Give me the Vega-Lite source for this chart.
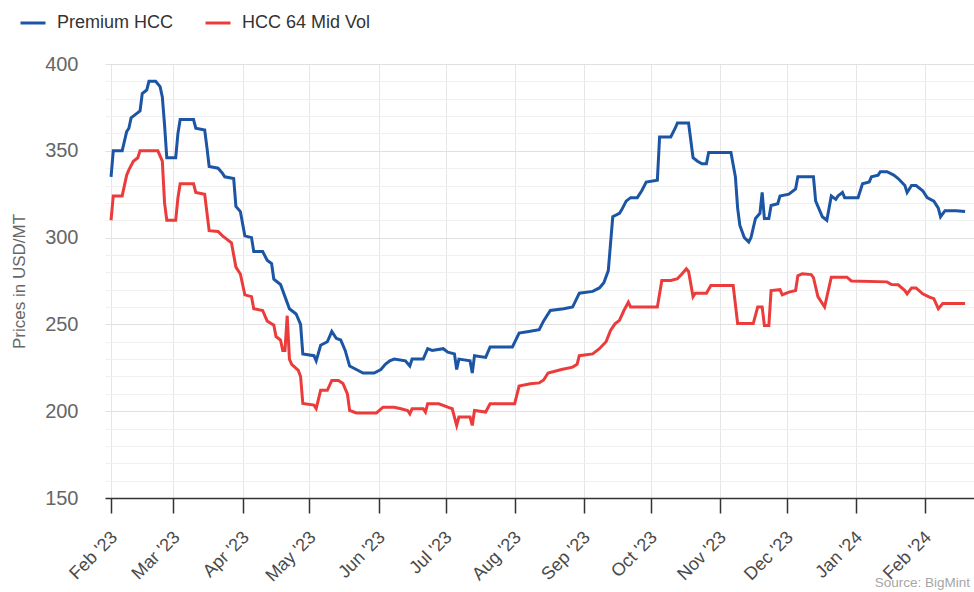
{
  "$schema": "https://vega.github.io/schema/vega-lite/v6.json",
  "width": 869,
  "height": 434,
  "autosize": {"type": "none"},
  "padding": {"left": 105, "top": 64, "right": 0, "bottom": 94},
  "background": "white",
  "config": {
    "font": "Liberation Sans",
    "view": {"stroke": null}
  },
  "title": {
    "text": "Source: BigMint",
    "orient": "bottom",
    "anchor": "end",
    "frame": "group",
    "fontSize": 13.5,
    "fontWeight": "normal",
    "color": "#a6a6a6",
    "offset": -9,
    "dx": -4
  },
  "data": {
    "values": [
      {"date": "2023-02-01", "series": "Premium HCC", "price": 335},
      {"date": "2023-02-02", "series": "Premium HCC", "price": 350},
      {"date": "2023-02-06", "series": "Premium HCC", "price": 350},
      {"date": "2023-02-08", "series": "Premium HCC", "price": 361},
      {"date": "2023-02-09", "series": "Premium HCC", "price": 363},
      {"date": "2023-02-10", "series": "Premium HCC", "price": 369},
      {"date": "2023-02-12", "series": "Premium HCC", "price": 371},
      {"date": "2023-02-14", "series": "Premium HCC", "price": 373},
      {"date": "2023-02-15", "series": "Premium HCC", "price": 383},
      {"date": "2023-02-17", "series": "Premium HCC", "price": 385},
      {"date": "2023-02-18", "series": "Premium HCC", "price": 390},
      {"date": "2023-02-21", "series": "Premium HCC", "price": 390},
      {"date": "2023-02-23", "series": "Premium HCC", "price": 387},
      {"date": "2023-02-24", "series": "Premium HCC", "price": 381},
      {"date": "2023-02-25", "series": "Premium HCC", "price": 365},
      {"date": "2023-02-26", "series": "Premium HCC", "price": 346},
      {"date": "2023-03-02", "series": "Premium HCC", "price": 346},
      {"date": "2023-03-03", "series": "Premium HCC", "price": 360},
      {"date": "2023-03-04", "series": "Premium HCC", "price": 368},
      {"date": "2023-03-10", "series": "Premium HCC", "price": 368},
      {"date": "2023-03-11", "series": "Premium HCC", "price": 363},
      {"date": "2023-03-15", "series": "Premium HCC", "price": 362},
      {"date": "2023-03-16", "series": "Premium HCC", "price": 352},
      {"date": "2023-03-17", "series": "Premium HCC", "price": 341},
      {"date": "2023-03-21", "series": "Premium HCC", "price": 340},
      {"date": "2023-03-23", "series": "Premium HCC", "price": 337},
      {"date": "2023-03-24", "series": "Premium HCC", "price": 335},
      {"date": "2023-03-28", "series": "Premium HCC", "price": 334},
      {"date": "2023-03-29", "series": "Premium HCC", "price": 318},
      {"date": "2023-03-31", "series": "Premium HCC", "price": 315},
      {"date": "2023-04-02", "series": "Premium HCC", "price": 301},
      {"date": "2023-04-05", "series": "Premium HCC", "price": 300},
      {"date": "2023-04-06", "series": "Premium HCC", "price": 292},
      {"date": "2023-04-10", "series": "Premium HCC", "price": 292},
      {"date": "2023-04-12", "series": "Premium HCC", "price": 287},
      {"date": "2023-04-14", "series": "Premium HCC", "price": 285},
      {"date": "2023-04-15", "series": "Premium HCC", "price": 276},
      {"date": "2023-04-18", "series": "Premium HCC", "price": 273},
      {"date": "2023-04-20", "series": "Premium HCC", "price": 266},
      {"date": "2023-04-22", "series": "Premium HCC", "price": 259},
      {"date": "2023-04-25", "series": "Premium HCC", "price": 256},
      {"date": "2023-04-27", "series": "Premium HCC", "price": 250},
      {"date": "2023-04-28", "series": "Premium HCC", "price": 233},
      {"date": "2023-05-03", "series": "Premium HCC", "price": 232},
      {"date": "2023-05-04", "series": "Premium HCC", "price": 229},
      {"date": "2023-05-06", "series": "Premium HCC", "price": 238},
      {"date": "2023-05-09", "series": "Premium HCC", "price": 240},
      {"date": "2023-05-11", "series": "Premium HCC", "price": 246},
      {"date": "2023-05-13", "series": "Premium HCC", "price": 242},
      {"date": "2023-05-15", "series": "Premium HCC", "price": 241},
      {"date": "2023-05-17", "series": "Premium HCC", "price": 235},
      {"date": "2023-05-19", "series": "Premium HCC", "price": 226},
      {"date": "2023-05-22", "series": "Premium HCC", "price": 224},
      {"date": "2023-05-25", "series": "Premium HCC", "price": 222},
      {"date": "2023-05-30", "series": "Premium HCC", "price": 222},
      {"date": "2023-06-02", "series": "Premium HCC", "price": 224},
      {"date": "2023-06-04", "series": "Premium HCC", "price": 227},
      {"date": "2023-06-06", "series": "Premium HCC", "price": 229},
      {"date": "2023-06-08", "series": "Premium HCC", "price": 230},
      {"date": "2023-06-13", "series": "Premium HCC", "price": 229},
      {"date": "2023-06-15", "series": "Premium HCC", "price": 226},
      {"date": "2023-06-16", "series": "Premium HCC", "price": 230},
      {"date": "2023-06-21", "series": "Premium HCC", "price": 230},
      {"date": "2023-06-23", "series": "Premium HCC", "price": 236},
      {"date": "2023-06-25", "series": "Premium HCC", "price": 235},
      {"date": "2023-06-30", "series": "Premium HCC", "price": 236},
      {"date": "2023-07-02", "series": "Premium HCC", "price": 234},
      {"date": "2023-07-05", "series": "Premium HCC", "price": 233},
      {"date": "2023-07-06", "series": "Premium HCC", "price": 224},
      {"date": "2023-07-07", "series": "Premium HCC", "price": 230},
      {"date": "2023-07-12", "series": "Premium HCC", "price": 229},
      {"date": "2023-07-13", "series": "Premium HCC", "price": 222},
      {"date": "2023-07-14", "series": "Premium HCC", "price": 232},
      {"date": "2023-07-19", "series": "Premium HCC", "price": 231},
      {"date": "2023-07-21", "series": "Premium HCC", "price": 237},
      {"date": "2023-07-31", "series": "Premium HCC", "price": 237},
      {"date": "2023-08-03", "series": "Premium HCC", "price": 245},
      {"date": "2023-08-08", "series": "Premium HCC", "price": 246},
      {"date": "2023-08-12", "series": "Premium HCC", "price": 247},
      {"date": "2023-08-14", "series": "Premium HCC", "price": 252},
      {"date": "2023-08-17", "series": "Premium HCC", "price": 258},
      {"date": "2023-08-23", "series": "Premium HCC", "price": 259},
      {"date": "2023-08-27", "series": "Premium HCC", "price": 260},
      {"date": "2023-08-30", "series": "Premium HCC", "price": 268},
      {"date": "2023-09-05", "series": "Premium HCC", "price": 269},
      {"date": "2023-09-08", "series": "Premium HCC", "price": 271},
      {"date": "2023-09-10", "series": "Premium HCC", "price": 274},
      {"date": "2023-09-12", "series": "Premium HCC", "price": 281},
      {"date": "2023-09-14", "series": "Premium HCC", "price": 312},
      {"date": "2023-09-17", "series": "Premium HCC", "price": 314},
      {"date": "2023-09-18", "series": "Premium HCC", "price": 316},
      {"date": "2023-09-20", "series": "Premium HCC", "price": 321},
      {"date": "2023-09-22", "series": "Premium HCC", "price": 323},
      {"date": "2023-09-25", "series": "Premium HCC", "price": 323},
      {"date": "2023-09-27", "series": "Premium HCC", "price": 327},
      {"date": "2023-09-29", "series": "Premium HCC", "price": 332},
      {"date": "2023-10-04", "series": "Premium HCC", "price": 333},
      {"date": "2023-10-05", "series": "Premium HCC", "price": 358},
      {"date": "2023-10-10", "series": "Premium HCC", "price": 358},
      {"date": "2023-10-12", "series": "Premium HCC", "price": 363},
      {"date": "2023-10-13", "series": "Premium HCC", "price": 366},
      {"date": "2023-10-18", "series": "Premium HCC", "price": 366},
      {"date": "2023-10-20", "series": "Premium HCC", "price": 346},
      {"date": "2023-10-22", "series": "Premium HCC", "price": 344},
      {"date": "2023-10-24", "series": "Premium HCC", "price": 342.5},
      {"date": "2023-10-26", "series": "Premium HCC", "price": 342.5},
      {"date": "2023-10-27", "series": "Premium HCC", "price": 349},
      {"date": "2023-11-06", "series": "Premium HCC", "price": 349},
      {"date": "2023-11-08", "series": "Premium HCC", "price": 335},
      {"date": "2023-11-09", "series": "Premium HCC", "price": 317},
      {"date": "2023-11-10", "series": "Premium HCC", "price": 307},
      {"date": "2023-11-12", "series": "Premium HCC", "price": 300},
      {"date": "2023-11-14", "series": "Premium HCC", "price": 297.5},
      {"date": "2023-11-15", "series": "Premium HCC", "price": 300},
      {"date": "2023-11-17", "series": "Premium HCC", "price": 311},
      {"date": "2023-11-19", "series": "Premium HCC", "price": 314},
      {"date": "2023-11-20", "series": "Premium HCC", "price": 326},
      {"date": "2023-11-21", "series": "Premium HCC", "price": 311},
      {"date": "2023-11-23", "series": "Premium HCC", "price": 311},
      {"date": "2023-11-24", "series": "Premium HCC", "price": 318.5},
      {"date": "2023-11-27", "series": "Premium HCC", "price": 319.5},
      {"date": "2023-11-28", "series": "Premium HCC", "price": 324},
      {"date": "2023-12-02", "series": "Premium HCC", "price": 325},
      {"date": "2023-12-05", "series": "Premium HCC", "price": 328},
      {"date": "2023-12-06", "series": "Premium HCC", "price": 335},
      {"date": "2023-12-13", "series": "Premium HCC", "price": 335},
      {"date": "2023-12-14", "series": "Premium HCC", "price": 321},
      {"date": "2023-12-17", "series": "Premium HCC", "price": 312},
      {"date": "2023-12-19", "series": "Premium HCC", "price": 310},
      {"date": "2023-12-21", "series": "Premium HCC", "price": 324},
      {"date": "2023-12-23", "series": "Premium HCC", "price": 322},
      {"date": "2023-12-24", "series": "Premium HCC", "price": 324},
      {"date": "2023-12-26", "series": "Premium HCC", "price": 326},
      {"date": "2023-12-27", "series": "Premium HCC", "price": 323},
      {"date": "2024-01-02", "series": "Premium HCC", "price": 323},
      {"date": "2024-01-04", "series": "Premium HCC", "price": 331},
      {"date": "2024-01-07", "series": "Premium HCC", "price": 332},
      {"date": "2024-01-08", "series": "Premium HCC", "price": 335},
      {"date": "2024-01-11", "series": "Premium HCC", "price": 336},
      {"date": "2024-01-12", "series": "Premium HCC", "price": 338},
      {"date": "2024-01-15", "series": "Premium HCC", "price": 338},
      {"date": "2024-01-18", "series": "Premium HCC", "price": 336},
      {"date": "2024-01-20", "series": "Premium HCC", "price": 334},
      {"date": "2024-01-23", "series": "Premium HCC", "price": 330},
      {"date": "2024-01-24", "series": "Premium HCC", "price": 326},
      {"date": "2024-01-26", "series": "Premium HCC", "price": 330},
      {"date": "2024-01-28", "series": "Premium HCC", "price": 330},
      {"date": "2024-01-31", "series": "Premium HCC", "price": 327},
      {"date": "2024-02-02", "series": "Premium HCC", "price": 323},
      {"date": "2024-02-05", "series": "Premium HCC", "price": 321},
      {"date": "2024-02-07", "series": "Premium HCC", "price": 317},
      {"date": "2024-02-08", "series": "Premium HCC", "price": 312},
      {"date": "2024-02-10", "series": "Premium HCC", "price": 315.5},
      {"date": "2024-02-15", "series": "Premium HCC", "price": 315.5},
      {"date": "2024-02-19", "series": "Premium HCC", "price": 315},

      {"date": "2023-02-01", "series": "HCC 64 Mid Vol", "price": 310},
      {"date": "2023-02-02", "series": "HCC 64 Mid Vol", "price": 324},
      {"date": "2023-02-06", "series": "HCC 64 Mid Vol", "price": 324},
      {"date": "2023-02-08", "series": "HCC 64 Mid Vol", "price": 336},
      {"date": "2023-02-09", "series": "HCC 64 Mid Vol", "price": 339},
      {"date": "2023-02-11", "series": "HCC 64 Mid Vol", "price": 344},
      {"date": "2023-02-13", "series": "HCC 64 Mid Vol", "price": 346},
      {"date": "2023-02-14", "series": "HCC 64 Mid Vol", "price": 350},
      {"date": "2023-02-22", "series": "HCC 64 Mid Vol", "price": 350},
      {"date": "2023-02-24", "series": "HCC 64 Mid Vol", "price": 344},
      {"date": "2023-02-25", "series": "HCC 64 Mid Vol", "price": 320},
      {"date": "2023-02-26", "series": "HCC 64 Mid Vol", "price": 310},
      {"date": "2023-03-02", "series": "HCC 64 Mid Vol", "price": 310},
      {"date": "2023-03-03", "series": "HCC 64 Mid Vol", "price": 323},
      {"date": "2023-03-04", "series": "HCC 64 Mid Vol", "price": 331},
      {"date": "2023-03-10", "series": "HCC 64 Mid Vol", "price": 331},
      {"date": "2023-03-11", "series": "HCC 64 Mid Vol", "price": 326},
      {"date": "2023-03-15", "series": "HCC 64 Mid Vol", "price": 325},
      {"date": "2023-03-17", "series": "HCC 64 Mid Vol", "price": 304},
      {"date": "2023-03-21", "series": "HCC 64 Mid Vol", "price": 303.5},
      {"date": "2023-03-23", "series": "HCC 64 Mid Vol", "price": 301},
      {"date": "2023-03-25", "series": "HCC 64 Mid Vol", "price": 299},
      {"date": "2023-03-27", "series": "HCC 64 Mid Vol", "price": 297},
      {"date": "2023-03-29", "series": "HCC 64 Mid Vol", "price": 283},
      {"date": "2023-03-31", "series": "HCC 64 Mid Vol", "price": 279},
      {"date": "2023-04-02", "series": "HCC 64 Mid Vol", "price": 267},
      {"date": "2023-04-05", "series": "HCC 64 Mid Vol", "price": 266},
      {"date": "2023-04-06", "series": "HCC 64 Mid Vol", "price": 259},
      {"date": "2023-04-10", "series": "HCC 64 Mid Vol", "price": 258},
      {"date": "2023-04-12", "series": "HCC 64 Mid Vol", "price": 252},
      {"date": "2023-04-15", "series": "HCC 64 Mid Vol", "price": 249.5},
      {"date": "2023-04-16", "series": "HCC 64 Mid Vol", "price": 243},
      {"date": "2023-04-18", "series": "HCC 64 Mid Vol", "price": 241},
      {"date": "2023-04-19", "series": "HCC 64 Mid Vol", "price": 235},
      {"date": "2023-04-20", "series": "HCC 64 Mid Vol", "price": 235},
      {"date": "2023-04-21", "series": "HCC 64 Mid Vol", "price": 255},
      {"date": "2023-04-22", "series": "HCC 64 Mid Vol", "price": 230},
      {"date": "2023-04-23", "series": "HCC 64 Mid Vol", "price": 227},
      {"date": "2023-04-26", "series": "HCC 64 Mid Vol", "price": 223.5},
      {"date": "2023-04-27", "series": "HCC 64 Mid Vol", "price": 220},
      {"date": "2023-04-28", "series": "HCC 64 Mid Vol", "price": 204.5},
      {"date": "2023-05-03", "series": "HCC 64 Mid Vol", "price": 203.5},
      {"date": "2023-05-04", "series": "HCC 64 Mid Vol", "price": 201.5},
      {"date": "2023-05-06", "series": "HCC 64 Mid Vol", "price": 212},
      {"date": "2023-05-09", "series": "HCC 64 Mid Vol", "price": 212},
      {"date": "2023-05-11", "series": "HCC 64 Mid Vol", "price": 217.7},
      {"date": "2023-05-14", "series": "HCC 64 Mid Vol", "price": 217.7},
      {"date": "2023-05-16", "series": "HCC 64 Mid Vol", "price": 216},
      {"date": "2023-05-18", "series": "HCC 64 Mid Vol", "price": 210},
      {"date": "2023-05-19", "series": "HCC 64 Mid Vol", "price": 200.5},
      {"date": "2023-05-22", "series": "HCC 64 Mid Vol", "price": 199},
      {"date": "2023-05-31", "series": "HCC 64 Mid Vol", "price": 199},
      {"date": "2023-06-03", "series": "HCC 64 Mid Vol", "price": 202.3},
      {"date": "2023-06-08", "series": "HCC 64 Mid Vol", "price": 202.3},
      {"date": "2023-06-11", "series": "HCC 64 Mid Vol", "price": 201.4},
      {"date": "2023-06-14", "series": "HCC 64 Mid Vol", "price": 200.4},
      {"date": "2023-06-15", "series": "HCC 64 Mid Vol", "price": 198.5},
      {"date": "2023-06-16", "series": "HCC 64 Mid Vol", "price": 201.4},
      {"date": "2023-06-21", "series": "HCC 64 Mid Vol", "price": 201.4},
      {"date": "2023-06-22", "series": "HCC 64 Mid Vol", "price": 199.5},
      {"date": "2023-06-23", "series": "HCC 64 Mid Vol", "price": 204.3},
      {"date": "2023-06-28", "series": "HCC 64 Mid Vol", "price": 204.3},
      {"date": "2023-07-02", "series": "HCC 64 Mid Vol", "price": 202.3},
      {"date": "2023-07-04", "series": "HCC 64 Mid Vol", "price": 201.4},
      {"date": "2023-07-06", "series": "HCC 64 Mid Vol", "price": 191.8},
      {"date": "2023-07-07", "series": "HCC 64 Mid Vol", "price": 196.6},
      {"date": "2023-07-12", "series": "HCC 64 Mid Vol", "price": 196.6},
      {"date": "2023-07-13", "series": "HCC 64 Mid Vol", "price": 191.8},
      {"date": "2023-07-14", "series": "HCC 64 Mid Vol", "price": 200.4},
      {"date": "2023-07-19", "series": "HCC 64 Mid Vol", "price": 199.5},
      {"date": "2023-07-21", "series": "HCC 64 Mid Vol", "price": 204.3},
      {"date": "2023-08-01", "series": "HCC 64 Mid Vol", "price": 204.3},
      {"date": "2023-08-03", "series": "HCC 64 Mid Vol", "price": 214.5},
      {"date": "2023-08-08", "series": "HCC 64 Mid Vol", "price": 215.8},
      {"date": "2023-08-12", "series": "HCC 64 Mid Vol", "price": 216.3},
      {"date": "2023-08-14", "series": "HCC 64 Mid Vol", "price": 218},
      {"date": "2023-08-16", "series": "HCC 64 Mid Vol", "price": 222},
      {"date": "2023-08-22", "series": "HCC 64 Mid Vol", "price": 224},
      {"date": "2023-08-27", "series": "HCC 64 Mid Vol", "price": 225.4},
      {"date": "2023-08-29", "series": "HCC 64 Mid Vol", "price": 227},
      {"date": "2023-08-30", "series": "HCC 64 Mid Vol", "price": 232},
      {"date": "2023-09-05", "series": "HCC 64 Mid Vol", "price": 233},
      {"date": "2023-09-08", "series": "HCC 64 Mid Vol", "price": 236},
      {"date": "2023-09-11", "series": "HCC 64 Mid Vol", "price": 240},
      {"date": "2023-09-13", "series": "HCC 64 Mid Vol", "price": 246.5},
      {"date": "2023-09-15", "series": "HCC 64 Mid Vol", "price": 250.3},
      {"date": "2023-09-17", "series": "HCC 64 Mid Vol", "price": 252.3},
      {"date": "2023-09-19", "series": "HCC 64 Mid Vol", "price": 258},
      {"date": "2023-09-21", "series": "HCC 64 Mid Vol", "price": 262.8},
      {"date": "2023-09-22", "series": "HCC 64 Mid Vol", "price": 260},
      {"date": "2023-10-04", "series": "HCC 64 Mid Vol", "price": 260},
      {"date": "2023-10-06", "series": "HCC 64 Mid Vol", "price": 275.3},
      {"date": "2023-10-10", "series": "HCC 64 Mid Vol", "price": 275.3},
      {"date": "2023-10-13", "series": "HCC 64 Mid Vol", "price": 276.3},
      {"date": "2023-10-15", "series": "HCC 64 Mid Vol", "price": 279},
      {"date": "2023-10-17", "series": "HCC 64 Mid Vol", "price": 282},
      {"date": "2023-10-18", "series": "HCC 64 Mid Vol", "price": 280.5},
      {"date": "2023-10-20", "series": "HCC 64 Mid Vol", "price": 266},
      {"date": "2023-10-21", "series": "HCC 64 Mid Vol", "price": 268},
      {"date": "2023-10-26", "series": "HCC 64 Mid Vol", "price": 268},
      {"date": "2023-10-28", "series": "HCC 64 Mid Vol", "price": 272.4},
      {"date": "2023-11-07", "series": "HCC 64 Mid Vol", "price": 272.4},
      {"date": "2023-11-09", "series": "HCC 64 Mid Vol", "price": 250.5},
      {"date": "2023-11-16", "series": "HCC 64 Mid Vol", "price": 250.5},
      {"date": "2023-11-18", "series": "HCC 64 Mid Vol", "price": 260},
      {"date": "2023-11-20", "series": "HCC 64 Mid Vol", "price": 260},
      {"date": "2023-11-21", "series": "HCC 64 Mid Vol", "price": 249.4},
      {"date": "2023-11-23", "series": "HCC 64 Mid Vol", "price": 249.4},
      {"date": "2023-11-24", "series": "HCC 64 Mid Vol", "price": 269.5},
      {"date": "2023-11-28", "series": "HCC 64 Mid Vol", "price": 270},
      {"date": "2023-11-29", "series": "HCC 64 Mid Vol", "price": 267},
      {"date": "2023-12-02", "series": "HCC 64 Mid Vol", "price": 268.6},
      {"date": "2023-12-05", "series": "HCC 64 Mid Vol", "price": 269.5},
      {"date": "2023-12-06", "series": "HCC 64 Mid Vol", "price": 278},
      {"date": "2023-12-08", "series": "HCC 64 Mid Vol", "price": 279.2},
      {"date": "2023-12-12", "series": "HCC 64 Mid Vol", "price": 278.7},
      {"date": "2023-12-13", "series": "HCC 64 Mid Vol", "price": 277},
      {"date": "2023-12-15", "series": "HCC 64 Mid Vol", "price": 266},
      {"date": "2023-12-18", "series": "HCC 64 Mid Vol", "price": 260},
      {"date": "2023-12-21", "series": "HCC 64 Mid Vol", "price": 277.2},
      {"date": "2023-12-28", "series": "HCC 64 Mid Vol", "price": 277.2},
      {"date": "2023-12-30", "series": "HCC 64 Mid Vol", "price": 275},
      {"date": "2024-01-15", "series": "HCC 64 Mid Vol", "price": 274.5},
      {"date": "2024-01-17", "series": "HCC 64 Mid Vol", "price": 273},
      {"date": "2024-01-20", "series": "HCC 64 Mid Vol", "price": 272.8},
      {"date": "2024-01-23", "series": "HCC 64 Mid Vol", "price": 269.5},
      {"date": "2024-01-24", "series": "HCC 64 Mid Vol", "price": 267.6},
      {"date": "2024-01-26", "series": "HCC 64 Mid Vol", "price": 271},
      {"date": "2024-01-28", "series": "HCC 64 Mid Vol", "price": 271},
      {"date": "2024-01-31", "series": "HCC 64 Mid Vol", "price": 267.6},
      {"date": "2024-02-03", "series": "HCC 64 Mid Vol", "price": 265.7},
      {"date": "2024-02-05", "series": "HCC 64 Mid Vol", "price": 264.8},
      {"date": "2024-02-07", "series": "HCC 64 Mid Vol", "price": 259},
      {"date": "2024-02-09", "series": "HCC 64 Mid Vol", "price": 262},
      {"date": "2024-02-19", "series": "HCC 64 Mid Vol", "price": 262}
    ]
  },
  "mark": {"type": "line", "strokeWidth": 3, "interpolate": "linear", "clip": true},
  "encoding": {
    "x": {
      "field": "date",
      "type": "temporal",
      "scale": {
        "type": "utc",
        "domain": [
          {"year": 2023, "month": 1, "date": 29, "hours": 7, "utc": true},
          {"year": 2024, "month": 2, "date": 23, "utc": true}
        ]
      },
      "axis": {
        "title": null,
        "values": [
          {"year": 2023, "month": 2, "date": 1, "utc": true},
          {"year": 2023, "month": 3, "date": 1, "utc": true},
          {"year": 2023, "month": 4, "date": 1, "utc": true},
          {"year": 2023, "month": 5, "date": 1, "utc": true},
          {"year": 2023, "month": 6, "date": 1, "utc": true},
          {"year": 2023, "month": 7, "date": 1, "utc": true},
          {"year": 2023, "month": 8, "date": 1, "utc": true},
          {"year": 2023, "month": 9, "date": 1, "utc": true},
          {"year": 2023, "month": 10, "date": 1, "utc": true},
          {"year": 2023, "month": 11, "date": 1, "utc": true},
          {"year": 2023, "month": 12, "date": 1, "utc": true},
          {"year": 2024, "month": 1, "date": 1, "utc": true},
          {"year": 2024, "month": 2, "date": 1, "utc": true}
        ],
        "labelExpr": "utcFormat(datum.value, \"%b '%y\")",
        "labelAngle": -45,
        "labelFontSize": 18,
        "labelColor": "#4a4a4a",
        "labelPadding": 15,
        "labelOffset": -3,
        "labelFlush": false,
        "labelOverlap": false,
        "tickSize": 15,
        "tickColor": "#333333",
        "tickWidth": 1.5,
        "domainColor": "#333333",
        "domainWidth": 1.5,
        "grid": true,
        "gridColor": "#e6e6e6",
        "gridWidth": 1
      }
    },
    "y": {
      "field": "price",
      "type": "quantitative",
      "scale": {"domain": [150, 400], "nice": false, "zero": false},
      "axis": {
        "title": "Prices in USD/MT",
        "titleFontSize": 17,
        "titleFontWeight": "normal",
        "titleColor": "#666666",
        "titleX": -86,
        "titleY": 217,
        "titleAngle": 270,
        "titleAlign": "center",
        "titleBaseline": "middle",
        "values": [150, 160, 170, 180, 190, 200, 210, 220, 230, 240, 250, 260, 270, 280, 290, 300, 310, 320, 330, 340, 350, 360, 370, 380, 390, 400],
        "labelExpr": "datum.value % 50 === 0 ? datum.label : ''",
        "labelFontSize": 20,
        "labelColor": "#666666",
        "labelPadding": 27,
        "ticks": false,
        "domain": false,
        "grid": true,
        "gridColor": {"condition": {"test": "datum.value % 50 === 0", "value": "#e0e0e0"}, "value": "#f0f0f0"},
        "gridWidth": 1
      }
    },
    "color": {
      "field": "series",
      "type": "nominal",
      "scale": {"domain": ["Premium HCC", "HCC 64 Mid Vol"], "range": ["#1b55a3", "#ec3b3b"]},
      "legend": {
        "title": null,
        "orient": "none",
        "legendX": -86,
        "legendY": -55,
        "direction": "horizontal",
        "symbolType": "stroke",
        "symbolSize": 625,
        "symbolStrokeWidth": 3,
        "labelFontSize": 18,
        "labelColor": "#333333",
        "labelOffset": 10,
        "columnPadding": 25,
        "padding": 0
      }
    }
  }
}
